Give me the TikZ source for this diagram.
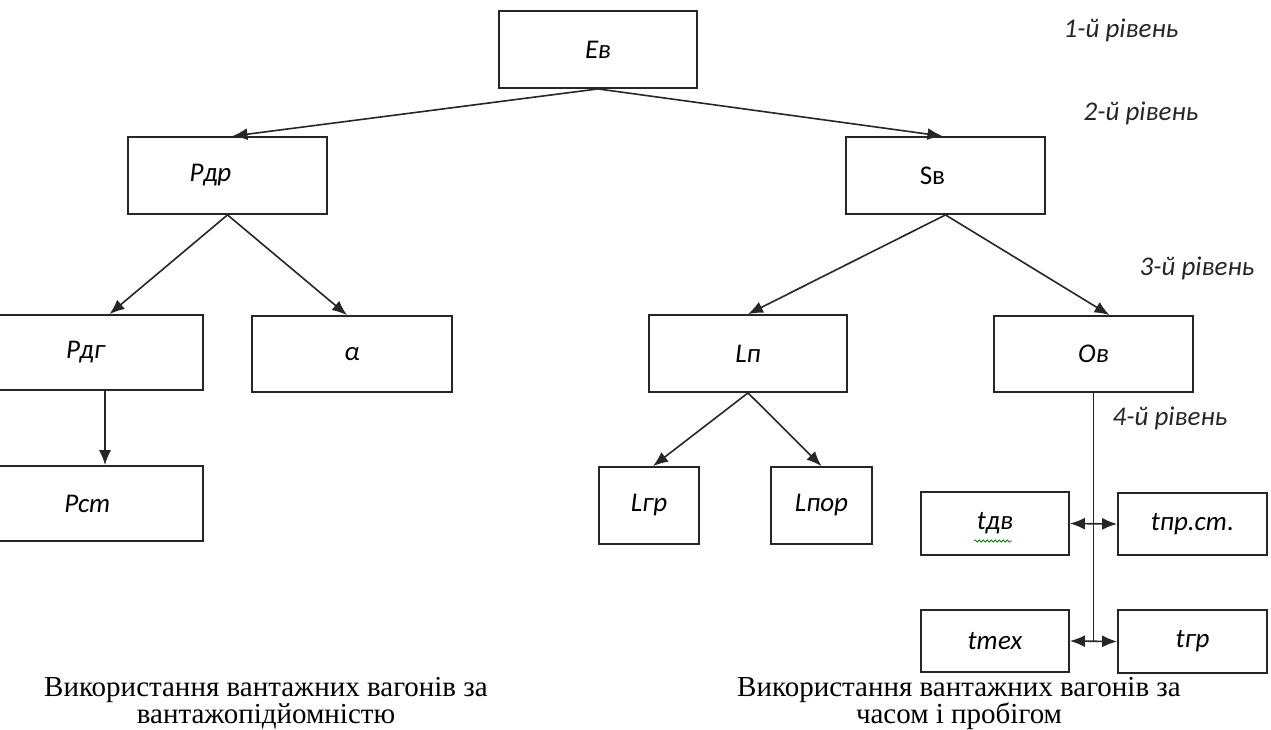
\documentclass[tikz,border=0pt]{standalone}
\usepackage{fontspec}
\setmainfont{Liberation Serif}
\newfontfamily\boxfont{Carlito}
\usetikzlibrary{arrows.meta,calc,decorations.pathmorphing}
\begin{document}
\begin{tikzpicture}[x=1pt,y=-1pt,
  box/.style={draw=black!85,line width=1.8pt,fill=white,inner sep=0pt,font=\boxfont\itshape\fontsize{27}{30}\selectfont},
  arr/.style={line width=1.6pt,draw=black!85,-{Latex[length=15pt,width=12pt]}},
  darr/.style={line width=1.6pt,draw=black!85,{Latex[length=15pt,width=12pt]}-{Latex[length=15pt,width=12pt]}},
  lvl/.style={font=\boxfont\itshape\fontsize{27}{30}\selectfont,text=black!85},
  captext/.style={align=center,font=\fontsize{29}{27}\selectfont}]
\useasboundingbox (0,0) rectangle (1271,729);
% level 1
\node[box,minimum width=198pt,minimum height=77pt] (ev) at (598,49.5) {Ев};
% level 2
\node[box,minimum width=199pt,minimum height=77pt,label={[xshift=-17pt,font=\boxfont\itshape\fontsize{27}{30}\selectfont]center:Рдр}] (pdr) at (227.5,175.5) {};
\node[box,minimum width=199pt,minimum height=77pt,label={[xshift=-13pt,font=\boxfont\fontsize{27}{30}\selectfont]center:Sв}] (sv) at (945.5,175.5) {};
% level 3
\node[box,minimum width=213pt,minimum height=75pt,label={[xshift=-11pt,font=\boxfont\itshape\fontsize{27}{30}\selectfont]center:Рдг}] (pdg) at (96.5,352.5) {};
\node[box,minimum width=200pt,minimum height=76pt] (alpha) at (352,354) {α};
\node[box,minimum width=198pt,minimum height=77pt] (ln) at (748,353.5) {Lп};
\node[box,minimum width=199pt,minimum height=76pt] (ov) at (1093.5,354) {Ов};
% level 4
\node[box,minimum width=213pt,minimum height=75pt,label={[xshift=-9pt,font=\boxfont\itshape\fontsize{27}{30}\selectfont]center:Рст}] (pst) at (96.5,503.5) {};
\node[box,minimum width=100pt,minimum height=77pt] (lgr) at (649,505.5) {Lгр};
\node[box,minimum width=101pt,minimum height=77pt] (lpor) at (821.5,505.5) {Lпор};
\node[box,minimum width=148pt,minimum height=63pt] (tdv) at (995,523.5) {tдв};
\node[box,minimum width=149pt,minimum height=62pt] (tpr) at (1192.5,524) {tпр.ст.};
\node[box,minimum width=148pt,minimum height=62pt] (ttex) at (995,641) {tтех};
\node[box,minimum width=149pt,minimum height=63pt] (tgr) at (1192.5,641.5) {tгр};
% spell-check underline
\draw[green!55!black,line width=0.8pt,decorate,decoration={snake,amplitude=1pt,segment length=4pt}] (974,541) -- (1012,541);
% level labels
\node[lvl] (l1) at (1121,30) {1-й рівень};
\node[lvl] (l2) at (1141,113) {2-й рівень};
\node[lvl] (l3) at (1197,268) {3-й рівень};
\node[lvl] (l4) at (1170,418) {4-й рівень};
% connectors
\draw[arr] (ev.south) -- ($(pdr.north)+(5,0)$);
\draw[arr] (ev.south) -- ($(sv.north)+(-3,0)$);
\draw[arr] (pdr.south) -- ($(pdg.north)+(13,0)$);
\draw[arr] (pdr.south) -- ($(alpha.north)+(-5,0)$);
\draw[arr] ($(pdg.south)+(8.5,0)$) -- ($(pst.north)+(8.5,0)$);
\draw[arr] (sv.south) -- (ln.north);
\draw[arr] (sv.south) -- ($(ov.north)+(16,0)$);
\draw[arr] (ln.south) -- ($(lgr.north)+(4,0)$);
\draw[arr] (ln.south) -- (lpor.north);
\coordinate (vend) at (1093.5,641);
\draw[line width=1.6pt,draw=black!85] (ov.south) -- (vend);
\draw[darr] (tdv.east) -- (tpr.west);
\draw[darr] (ttex.east) -- (tgr.west);
% captions
\node[captext] (c1) at (266,703) {Використання вантажних вагонів за\\вантажопідйомністю};
\node[captext] (c2) at (959,703) {Використання вантажних вагонів за\\часом і пробігом};
\end{tikzpicture}
\end{document}
